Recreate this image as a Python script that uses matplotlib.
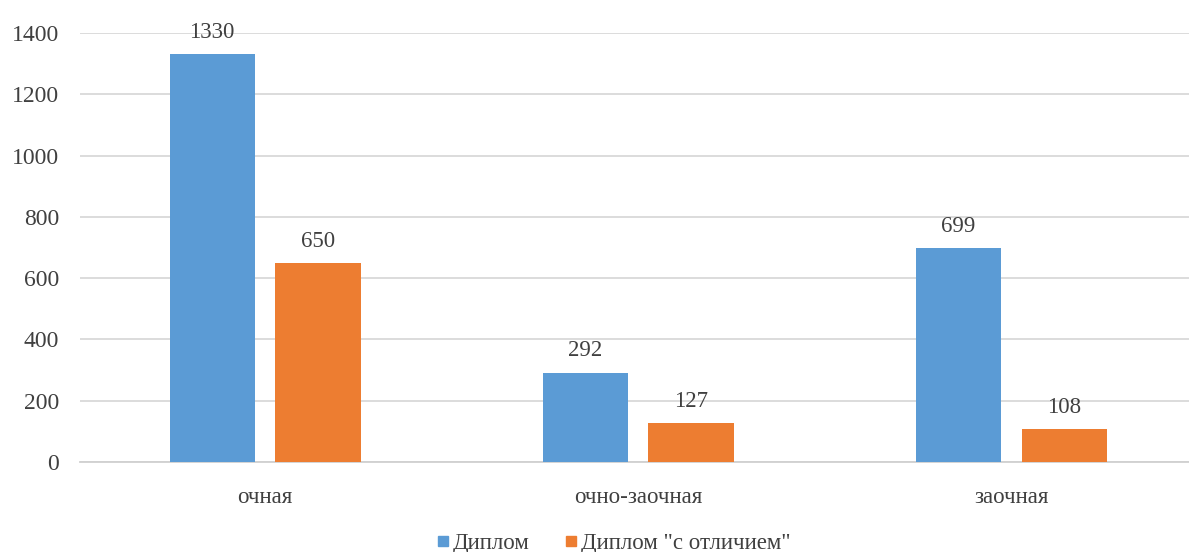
import matplotlib
matplotlib.use("Agg")
import matplotlib.pyplot as plt
from matplotlib.lines import Line2D
import numpy as np

categories = ["очная", "очно-заочная", "заочная"]
series_names = ["Диплом", "Диплом \"с отличием\""]
diplom = [1330, 292, 699]
otlichie = [650, 127, 108]
y_ticks = [0, 200, 400, 600, 800, 1000, 1200, 1400]

colors = ["#5B9BD5", "#ED7D31"]
plt.rcParams['font.family'] = ['Liberation Serif', 'DejaVu Serif']

fig = plt.figure(figsize=(11.89, 5.52), dpi=100)
ax = fig.add_axes([80/1189, 1-462/552, 1-80/1189, (462-33)/552])

x = np.arange(len(categories))
w = 0.228
off = 0.142
b1 = ax.bar(x - off, diplom, w, color=colors[0], zorder=3)
b2 = ax.bar(x + off, otlichie, w, color=colors[1], zorder=3)

for bars, vals in ((b1, diplom), (b2, otlichie)):
    for r, v in zip(bars, vals):
        ax.text(r.get_x() + r.get_width()/2, v + 36, str(v), ha='center', va='bottom',
                fontsize=16.5, color='#404040', clip_on=False, zorder=4)

ax.set_ylim(0, 1400)
ax.set_xlim(-0.496, 2.477)
ax.set_yticks(y_ticks)
ax.set_yticklabels([str(t) for t in y_ticks])
ax.yaxis.grid(True, color='#d9d9d9', linewidth=1.3, zorder=0)
ax.set_axisbelow(True)
for s in ['top', 'right', 'left']:
    ax.spines[s].set_visible(False)
ax.spines['bottom'].set_color('#d0d0d0')
ax.spines['bottom'].set_linewidth(1.3)
ax.tick_params(axis='y', length=0, pad=15, labelsize=17, labelcolor='#404040')
ax.set_xticks(x)
ax.set_xticklabels(categories)
ax.tick_params(axis='x', length=0, pad=18, labelsize=16.5, labelcolor='#404040')

handles = [Line2D([0], [0], marker='s', linestyle='none', markersize=7.5,
                  markerfacecolor=c, markeredgecolor=c) for c in colors]
fig.legend(handles, series_names, loc='center', bbox_to_anchor=(0.516, 1-543/552),
           ncol=2, frameon=False, fontsize=16.5, handletextpad=0.15, handlelength=0.6,
           columnspacing=1.5, labelcolor='#404040', borderaxespad=0)

fig.savefig("out.png", dpi=100)
